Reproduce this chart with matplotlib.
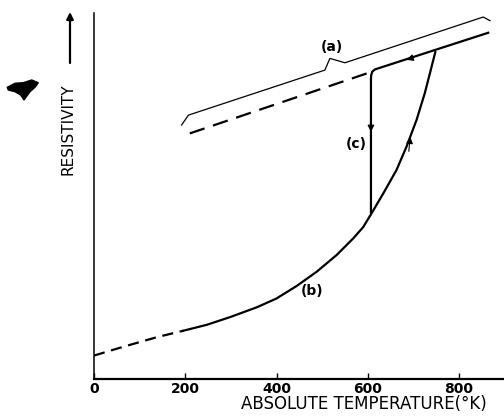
import matplotlib
matplotlib.use("Agg")
import matplotlib.pyplot as plt
from matplotlib.patches import Polygon

# curve (b): heating, dashed extrapolation at low temperature
b_dash_T = [0, 64, 137, 196]
b_dash_R = [6.4, 8.8, 11.4, 13.2]
b_T = [196, 247, 298, 357, 400, 444, 488, 532, 568, 590, 608, 634, 663, 685, 707, 725, 738, 748]
b_R = [13.2, 14.8, 16.9, 19.6, 22.0, 25.4, 29.3, 33.9, 38.4, 41.5, 45.2, 50.7, 57.1, 63.5, 70.8, 78.1, 84.4, 89.3]

# high temperature line, cooling then drop (c)
line_dash_T = [210, 598]
line_dash_R = [67.1, 83.5]
c_T = [864, 616, 610, 607.5, 607, 607]
c_R = [94.6, 84.6, 84.0, 83.0, 82.0, 45.5]

# brace marking (a)
brace_T = [192, 207, 506, 517, 550, 853, 868]
brace_R = [69.4, 72.1, 84.4, 87.6, 86.4, 98.9, 97.9]

# arrow heads: (T, R, dT, dR)
arrows = [(607, 67.5, 0, -3), (685, 87.2, -12, -0.5), (693, 66.2, 3, 4)]

labels = [("(a)", 521, 90.8), ("(b)", 478, 24.0), ("(c)", 575, 64.1)]
xticks = [0, 200, 400, 600, 800]

fig = plt.figure(figsize=(5.04, 4.17), dpi=100)
ax = fig.add_axes([94/504, 1-379/417, 410/504, 366/417])
ax.set_xlim(0, 898.6)
ax.set_ylim(0, 100)

lw = 1.6
ax.plot(b_dash_T, b_dash_R, color='black', lw=lw, dashes=(5, 3))
ax.plot(b_T, b_R, color='black', lw=lw, solid_joinstyle='round')
ax.plot(line_dash_T, line_dash_R, color='black', lw=lw, dashes=(7, 4))
ax.plot(c_T, c_R, color='black', lw=lw, solid_joinstyle='round')
ax.plot(brace_T, brace_R, color='black', lw=0.9)

for t, r, dt, dr in arrows:
    ax.annotate('', xy=(t, r), xytext=(t - dt, r - dr),
                arrowprops=dict(arrowstyle='-|>', color='black', lw=0.8,
                                mutation_scale=10, shrinkA=0, shrinkB=0))

for txt, t, r in labels:
    ax.text(t, r, txt, fontsize=10, fontweight='bold', ha='center', va='center')

for s in ['top', 'right']:
    ax.spines[s].set_visible(False)
ax.spines['left'].set_linewidth(1.1)
ax.spines['bottom'].set_linewidth(1.6)
ax.set_yticks([])
ax.set_xticks(xticks)
ax.tick_params(axis='x', direction='in', length=4, width=1, pad=2, labelsize=10)
for lab in ax.get_xticklabels():
    lab.set_fontweight('bold')

fig.text(364/504, 1-404/417, "ABSOLUTE TEMPERATURE(°K)", fontsize=12,
         ha='center', va='center')
fig.text(68/504, 1-129/417, "RESISTIVITY", fontsize=11, rotation=90,
         ha='center', va='center')
ax.annotate('', xy=(70/504, 1-12/417), xytext=(70/504, 1-63/417),
            xycoords='figure fraction', textcoords='figure fraction',
            arrowprops=dict(arrowstyle='-|>', color='black', lw=1.6,
                            mutation_scale=10, shrinkA=0, shrinkB=0))

# scan blot to the left of the label
blot = [(7.3, 87.3), (15, 83.3), (23.3, 82.7), (31.7, 80), (38.3, 82.7), (35, 87.3),
        (30, 91.7), (24, 100), (20.7, 95), (15, 91.7), (8.3, 90)]
fig.patches.append(Polygon([(x/504, 1-y/417) for x, y in blot], closed=True,
                           color='black', transform=fig.transFigure))

fig.savefig("out.png", dpi=100)
